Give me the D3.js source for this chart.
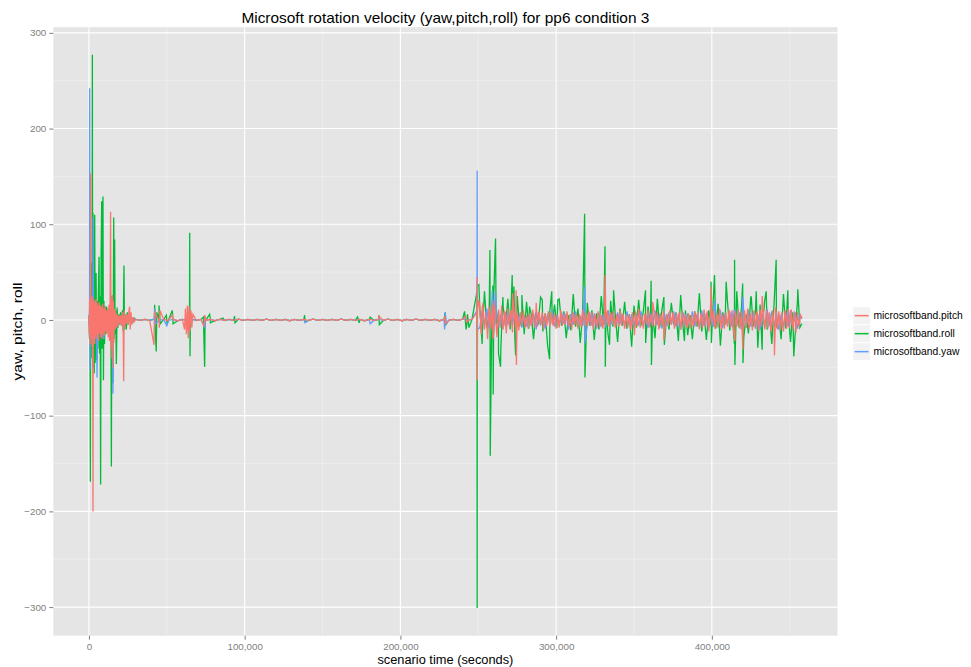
<!DOCTYPE html>
<html>
<head>
<meta charset="utf-8">
<script src="https://cdn.jsdelivr.net/npm/d3@7"></script>
<style>
  body { margin: 0; background: #fff; }
  text { font-family: "Liberation Sans", Arial, sans-serif; }
</style>
</head>
<body>
<svg id="chart" width="971" height="667"></svg>
<script>
// series names (legend order) and colours
var seriesNames = ['microsoftband.pitch', 'microsoftband.roll', 'microsoftband.yaw'];
var seriesColors = ['#F8766D', '#00BA38', '#619CFF'];

var xTicks = [0, 100000, 200000, 300000, 400000];
var yTicks = [-300, -200, -100, 0, 100, 200, 300];

// time in thousands of seconds; quiet stretch sampled every 3k, busy stretch from 251k
var midStart = 30, midStep = 3;
var busyStart = 251;

// ---- pitch ----
var pitchEarly = [[0,3],[0.2,-15],[0.45,22],[0.7,-25],[0.9,18],[1.1,153],[1.3,-20],[1.6,25],[1.9,-28],[2.2,20],[2.4,-15],[2.6,-200],[2.8,24],[3.1,-22],[3.4,18],[3.7,-25],[4.0,20],[4.3,-18],[4.6,22],[4.9,-15],[5.2,18],[5.5,-20],[5.9,15],[6.2,-22],[6.5,19],[6.9,-14],[7.2,16],[7.6,-18],[8.0,14],[8.4,-20],[8.8,17],[9.2,-15],[9.6,12],[10.0,-16],[10.4,14],[10.8,-12],[11.2,10],[11.6,-14],[12.0,12],[12.4,-18],[12.8,16],[13.2,-22],[13.6,24],[13.9,113],[14.2,-30],[14.5,22],[14.8,-40],[15.1,26],[15.4,-50],[15.7,20],[16.0,-24],[16.4,12],[16.8,-10],[17.2,9],[17.6,-8],[18.1,6],[18.6,-7],[19.2,5],[19.8,-4],[20.4,5],[21.0,-6],[21.6,8],[22.0,-10],[22.3,-64],[22.6,10],[23.0,-8],[23.5,5],[24.0,-4],[24.6,6],[25.2,-5],[25.7,10],[26.1,14],[26.5,-10],[27.0,8],[27.5,-5],[28.2,3],[29,-2]];
var pitchMid = [0.5,-0.5,0.5,-0.5,0.8,-0.5,0.5,-0.5,0.5,-0.8, 0.5,-0.5,0.8,-0.5,0.5,-0.5,0.5,-0.8,0.5,-0.5, 0.5,-0.5,0.8,-0.5,0.5,-0.5,0.5,-0.5,0.8,-0.5, 0.5,-0.5,0.5,-0.8,0.5,-0.5,0.5,-0.5,0.8,-0.5, 0.5,-0.5,0.5,-0.5,0.8,-0.5,0.5,-0.5,0.5,-0.8, 0.5,-0.5,0.5,-0.5,0.8,-0.5,0.5,-0.8,0.5,-0.5, 0.8,-0.5,0.5,-0.5,0.5,-0.8,0.5,-0.5,0.5,-0.5, 0.8,-0.5,0.5];
var pitchBusyStep = 1;
var pitchBusy = [
  12,-15,18,-10,8,-20,14,-9,16,-12,7,-18,11,-8,15,-10,9,-14,12,-7,10,-13,8,
  -9,7,-11,8,-6,10,-8,5,-9,7,-6,11,-8,6,-7,9,-5,8,-10,7,-6,9,-7,
  8,-6,7,-9,5,-8,10,-6,7,-5,9,-7,6,-10,8,-5,7,-9,6,-7,11,-6,8,
  -7,9,-6,8,-10,6,-7,9,-8,5,-9,7,-6,10,-7,8,-5,9,-8,6,-7,10,-6,
  7,-9,6,-8,5,-10,8,-6,9,-7,12,-8,6,-9,7,-5,10,-8,6,-7,9,-6,8,
  -10,7,-6,9,-8,6,-7,10,-5,8,-9,7,-6,8,-10,9,-7,6,-8,7,-9,5,-7,
  9,-6,8,-10,7,-8,11,-7,9,-12,8,-6,10,-9,7,-8,12,-10,6,-9,8,-7,11,
  -8,10,-12,9,-7,11,-9,8,-13,10,-8,12,-9,7,-11,10,-8,9,-12,11,-7,9,-10,
  11,-9,8,-12,10,-7,13,-10,9,-11,8,-12,10,-9,12,-8,11,-10,9,-13,8,-7,5];
var pitchSpikes = [[41.8,-26],[42.3,8],[45.2,-8],[45.6,10],[53.5,5],[61.4,-10],[62,12],[62.6,-15],[63.2,15],[63.8,-19],[64.3,14],[64.8,-12],[65.4,10],[66,-8],[66.8,6],[73.8,-6],[74.4,5],[186.2,4],[228.6,4],[228.9,-4],[242,4],[242.5,-3],
  [249.2,8],[249.3,45],[249.4,-63],[249.6,10],[250.4,21],[252.6,14],[259.5,-20],[260,20],[272,28],[274.3,31],[274.5,-47],[287.2,18],[331.5,47],[350.3,-16],[362,19],[369.2,-21],[399.6,35],[414.8,-22],[419.9,-31],[432.3,25],[440.2,-37],[457.8,2]];

// ---- roll ----
var rollEarly = [[0,5],[0.3,-20],[0.6,25],[0.9,-169],[1.1,40],[1.4,-30],[1.7,60],[2.0,-40],[2.2,277],[2.4,-50],[2.6,112],[2.8,-25],[3.1,84],[3.4,-56],[3.7,110],[4.0,-45],[4.3,30],[4.6,49],[4.9,-42],[5.3,20],[5.7,-30],[6.1,35],[6.5,66],[6.8,-35],[7.2,25],[7.5,-172],[7.8,64],[8.2,124],[8.5,-30],[9.0,129],[9.3,-63],[9.6,20],[10.0,-25],[10.4,14],[10.8,-15],[11.3,14],[11.8,-10],[12.3,12],[12.8,-14],[13.3,10],[13.8,-20],[14.1,20],[14.4,-153],[14.7,25],[15.1,-40],[15.4,-66],[15.7,30],[15.9,107],[16.2,-20],[16.5,84],[16.8,-15],[17.2,10],[17.6,-46],[18.1,13],[18.6,-8],[19.2,6],[19.7,-5],[20.3,8],[20.9,-6],[21.5,10],[22.0,-12],[22.5,57],[22.8,-10],[23.3,6],[24.0,-10],[24.6,8],[25.3,-5],[26.1,6],[26.8,-4],[27.4,3],[28.2,-2],[29,2]];
var rollMid = [0.5,-0.5,0.5,-0.5,0.8,-0.5,0.5,-0.5,0.5,-0.8, 0.5,-0.5,0.8,-0.5,0.5,-0.5,0.5,-0.8,0.5,-0.5, 0.5,-0.5,0.8,-0.5,0.5,-0.5,0.5,-0.5,0.8,-0.5, 0.5,-0.5,0.5,-0.8,0.5,-0.5,0.5,-0.5,0.8,-0.5, 0.5,-0.5,0.5,-0.5,0.8,-0.5,0.5,-0.5,0.5,-0.8, 0.5,-0.5,0.5,-0.5,0.8,-0.5,0.5,-0.8,0.5,-0.5, 0.8,-0.5,0.5,-0.5,0.5,-0.8,0.5,-0.5,0.5,-0.5, 0.8,-0.5,0.5];
var rollBusyStep = 1.5;
var rollBusy = [
  12,-25,30,-8,6,-22,28,-5,9,-30,14,-6,22,-10,5,-18,25,-7,4,-15,19,-9,6,
  -20,8,-5,24,-12,7,-26,10,-4,16,-8,22,-6,9,-19,5,-11,27,-7,12,-24,6,-9,
  18,-6,10,-21,7,-10,25,-5,8,-17,20,-7,5,-23,12,-6,19,-9,6,-28,15,-8,21,
  -6,9,-24,14,-7,5,-19,22,-8,11,-26,6,-10,18,-5,8,-22,26,-7,10,-16,5,-20,
  9,-7,28,-12,6,-21,10,-6,24,-9,17,-27,8,-5,20,-11,7,-25,30,-8,12,-19,6,
  -14,24,-7,9,-29,16,-6,21,-10,7,-25,18,-8,5,-20,27,-9,11,-23,8,-15,20,-8];
var rollSpikes = [[42.2,16],[42.6,-10],[43.2,-33],[43.6,8],[45.0,15],[45.8,-4],[49.7,5],[50.2,-5],[53.5,10],[54,-4],[64.6,8],[64.7,91],[64.9,-38],[65.2,8],[73.5,3],[74.3,-49],[74.6,2],[77.5,6],[78,-3],[86,2],[93.5,4],[93.8,-3],[138.5,5],[138.8,-2],[172.5,3],[173.5,-3],[180.6,3],[186.2,5],[186.5,-5],[228.8,8],[229.2,-5],[241.2,9],[242.2,-10],[243.1,6],[244,-8],
  [249.2,30],[249.3,-301],[249.4,36],[250.4,37],[252.6,-14],[257.5,73],[257.7,-142],[259.4,36],[259.6,-78],[261.1,85],[263,-35],[264.3,-49],[265.8,24],[271.8,47],[272.9,35],[274,-37],[278,26],[282.9,14],[291.1,21],[295.8,-41],[297.2,30],[301.1,21],[318.3,111],[318.5,-60],[331.4,77],[331.6,-49],[334.3,-26],[336.9,31],[357.4,31],[361,41],[361.2,-47],[369.2,24],[382.4,-22],[399.5,40],[399.7,-24],[401.7,47],[409.2,40],[414.6,63],[414.8,-47],[419.8,38],[420,-45],[425.3,24],[428.5,30],[432.3,-31],[434.9,30],[441.3,63],[448.8,31],[452.6,-38],[455.2,32],[457.8,-4]];

// ---- yaw ----
var yawEarly = [[0,-5],[0.3,12],[0.45,242],[0.6,-52],[0.9,15],[1.2,-12],[1.5,18],[1.8,-15],[2.1,14],[2.4,-10],[2.7,107],[3.0,-15],[3.3,20],[3.7,-18],[4.0,15],[4.4,-20],[4.8,16],[5.2,-60],[5.6,12],[6.0,-15],[6.4,14],[6.8,-12],[7.2,15],[7.6,-14],[8.0,12],[8.4,-15],[8.8,14],[9.2,-12],[9.6,-20],[10.0,10],[10.5,-8],[11.0,9],[11.5,-8],[12.0,10],[12.5,-9],[13.0,11],[13.5,-12],[14.0,14],[14.4,-18],[14.8,15],[15.1,-30],[15.4,-77],[15.7,12],[16.1,-10],[16.5,8],[17.0,-6],[17.5,6],[18.0,-4],[19.0,3],[20.0,-3],[21.0,3],[22.0,-4],[22.5,5],[23.0,-3],[24.0,3],[25.0,-2],[26.0,2],[27.0,-1],[28.5,1]];
var yawMid = [0.5,-0.5,0.5,-0.5,0.8,-0.5,0.5,-0.5,0.5,-0.8, 0.5,-0.5,0.8,-0.5,0.5,-0.5,0.5,-0.8,0.5,-0.5, 0.5,-0.5,0.8,-0.5,0.5,-0.5,0.5,-0.5,0.8,-0.5, 0.5,-0.5,0.5,-0.8,0.5,-0.5,0.5,-0.5,0.8,-0.5, 0.5,-0.5,0.5,-0.5,0.8,-0.5,0.5,-0.5,0.5,-0.8, 0.5,-0.5,0.5,-0.5,0.8,-0.5,0.5,-0.8,0.5,-0.5, 0.8,-0.5,0.5,-0.5,0.5,-0.8,0.5,-0.5,0.5,-0.5, 0.8,-0.5,0.5];
var yawBusyStep = 1.5;
var yawBusy = [
  -8,10,-6,12,-9,7,-11,8,-7,6,-9,8,-5,7,-6,9,-5,6,-8,5,-7,4,-6,
  7,-5,8,-6,4,-9,6,-5,10,-7,5,-6,8,-4,7,-10,6,-5,9,-7,4,-6,7,
  -5,8,-6,7,-9,5,-7,6,-8,10,-5,7,-6,8,-4,6,-7,9,-5,6,-8,7,-6,
  9,-7,5,-8,7,-6,10,-5,6,-9,7,-6,8,-5,9,-7,6,-10,8,-5,7,-6,9,
  -7,6,-8,10,-6,7,-9,5,-7,8,-6,10,-8,7,-5,9,-7,11,-6,8,-10,7,-8,
  10,-7,8,-9,6,-10,7,-8,11,-6,9,-7,8,-10,6,-8,9,-7,10,-6,8,-9,5];
var yawSpikes = [[42.3,12],[42.6,-4],[50,-6],[74.5,-9],[74.8,3],[138.8,-3],[180.6,-4],[228.4,-10],[228.8,8],[229.5,-4],
  [249.2,10],[249.3,156],[249.4,-10],[259,31],[261.1,28],[287.2,-10],[318.4,35],[318.5,-24],[401.7,20],[419.9,24],[457.8,1]];

function buildSeries(early, mid, busy, busyStep, spikes) {
  var pts = early.slice();
  mid.forEach(function(v, i) { pts.push([midStart + i * midStep, v]); });
  busy.forEach(function(v, i) { pts.push([busyStart + i * busyStep, v]); });
  pts = pts.concat(spikes);
  pts.sort(function(a, b) { return a[0] - b[0]; });
  return pts.map(function(d) { return {t: d[0] * 1000, v: d[1]}; });
}

var series = [
  {name: seriesNames[0], color: seriesColors[0], values: buildSeries(pitchEarly, pitchMid, pitchBusy, pitchBusyStep, pitchSpikes)},
  {name: seriesNames[1], color: seriesColors[1], values: buildSeries(rollEarly, rollMid, rollBusy, rollBusyStep, rollSpikes)},
  {name: seriesNames[2], color: seriesColors[2], values: buildSeries(yawEarly, yawMid, yawBusy, yawBusyStep, yawSpikes)}
];

var panel = {left: 53.3, right: 837.5, top: 27.2, bottom: 635.7};
var svg = d3.select('#chart');

// ggplot style 5% expansion of the data range
var allVals = d3.merge(series.map(function(s) { return s.values; }));
function expand(ext) { var p = (ext[1] - ext[0]) * 0.05; return [ext[0] - p, ext[1] + p]; }

var x = d3.scaleLinear()
    .domain(expand(d3.extent(allVals, function(d) { return d.t; })))
    .range([panel.left, panel.right]);
var y = d3.scaleLinear()
    .domain(expand(d3.extent(allVals, function(d) { return d.v; })))
    .range([panel.bottom, panel.top]);

svg.append('rect')
    .attr('x', panel.left).attr('y', panel.top)
    .attr('width', panel.right - panel.left).attr('height', panel.bottom - panel.top)
    .attr('fill', '#E5E5E5');

// minor grid halfway between majors
var xMinor = [50000, 150000, 250000, 350000, 450000];
var yMinor = [-250, -150, -50, 50, 150, 250];

svg.append('g').selectAll('line').data(xMinor).enter().append('line')
    .attr('x1', x).attr('x2', x).attr('y1', panel.top).attr('y2', panel.bottom)
    .attr('stroke', '#F2F2F2').attr('stroke-width', 0.6);
svg.append('g').selectAll('line').data(yMinor).enter().append('line')
    .attr('x1', panel.left).attr('x2', panel.right).attr('y1', y).attr('y2', y)
    .attr('stroke', '#F2F2F2').attr('stroke-width', 0.6);
svg.append('g').selectAll('line').data(xTicks).enter().append('line')
    .attr('x1', x).attr('x2', x).attr('y1', panel.top).attr('y2', panel.bottom)
    .attr('stroke', '#fff').attr('stroke-width', 1.1);
svg.append('g').selectAll('line').data(yTicks).enter().append('line')
    .attr('x1', panel.left).attr('x2', panel.right).attr('y1', y).attr('y2', y)
    .attr('stroke', '#fff').attr('stroke-width', 1.1);

// lines: roll underneath, then yaw, pitch on top
var line = d3.line()
    .x(function(d) { return x(d.t); })
    .y(function(d) { return y(d.v); });

[1, 2, 0].forEach(function(i) {
  svg.append('path')
      .datum(series[i].values)
      .attr('d', line)
      .attr('fill', 'none')
      .attr('stroke', series[i].color)
      .attr('stroke-width', 1.3)
      .attr('stroke-linejoin', 'miter');
});

// axes
var xAxis = svg.append('g')
    .attr('transform', 'translate(0,' + panel.bottom + ')')
    .call(d3.axisBottom(x).tickValues(xTicks).tickSize(4).tickPadding(3).tickFormat(d3.format(',')));
var yAxis = svg.append('g')
    .attr('transform', 'translate(' + panel.left + ',0)')
    .call(d3.axisLeft(y).tickValues(yTicks).tickSize(4).tickPadding(3).tickFormat(d3.format('d')));

[xAxis, yAxis].forEach(function(a) {
  a.select('.domain').remove();
  a.selectAll('line').attr('stroke', '#7F7F7F');
  a.selectAll('text').attr('fill', '#7F7F7F').style('font-size', '9.8px')
      .style('font-family', '"Liberation Sans", Arial, sans-serif');
});

// titles
svg.append('text')
    .attr('x', (panel.left + panel.right) / 2).attr('y', 23)
    .attr('text-anchor', 'middle')
    .attr('textLength', 408).attr('lengthAdjust', 'spacingAndGlyphs')
    .style('font-size', '14.6px')
    .text('Microsoft rotation velocity (yaw,pitch,roll) for pp6 condition 3');

svg.append('text')
    .attr('x', (panel.left + panel.right) / 2).attr('y', 664)
    .attr('text-anchor', 'middle')
    .attr('textLength', 136).attr('lengthAdjust', 'spacingAndGlyphs')
    .style('font-size', '12px')
    .text('scenario time (seconds)');

svg.append('text')
    .attr('transform', 'translate(22,' + ((panel.top + panel.bottom) / 2) + ') rotate(-90)')
    .attr('text-anchor', 'middle')
    .attr('textLength', 98).attr('lengthAdjust', 'spacingAndGlyphs')
    .style('font-size', '12px')
    .text('yaw, pitch, roll');

// legend
var legend = svg.append('g').attr('transform', 'translate(853,307)');
var items = legend.selectAll('g').data(series).enter().append('g')
    .attr('transform', function(d, i) { return 'translate(0,' + (i * 18) + ')'; });
items.append('rect')
    .attr('width', 17.3).attr('height', 17.3)
    .attr('fill', '#F2F2F2').attr('stroke', '#fff').attr('stroke-width', 0.5);
items.append('line')
    .attr('x1', 1.7).attr('x2', 15.6).attr('y1', 8.65).attr('y2', 8.65)
    .attr('stroke', function(d) { return d.color; }).attr('stroke-width', 1.5);
items.append('text')
    .attr('x', 20.5).attr('y', 12.3)
    .style('font-size', '10.3px')
    .text(function(d) { return d.name; });
</script>
</body>
</html>
